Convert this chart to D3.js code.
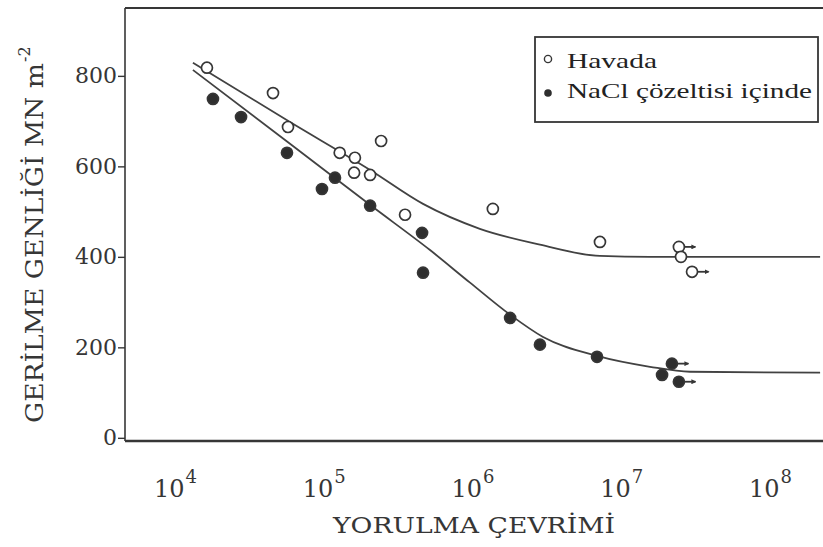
<!DOCTYPE html>
<html>
<head>
<meta charset="utf-8">
<script src="https://cdn.jsdelivr.net/npm/d3@7"></script>
<style>
  html, body { margin: 0; padding: 0; background: #fff; }
  svg { display: block; }
</style>
</head>
<body>
<svg id="chart" width="823" height="547"></svg>
<script>
// Fatigue (S-N) data: stress amplitude vs. cycles to failure
const airCycles   = [1.64e4, 4.56e4, 5.75e4, 1.28e5, 1.62e5, 1.60e5, 2.05e5, 2.43e5, 3.52e5, 1.37e6, 7.19e6, 2.44e7, 2.52e7, 2.99e7];
const airStress   = [818, 762, 687, 630, 619, 586, 581, 656, 493, 506, 433, 422, 400, 367];
const airRunout   = [false, false, false, false, false, false, false, false, false, false, false, true, false, true];

const saltCycles  = [1.80e4, 2.78e4, 5.66e4, 9.73e4, 1.19e5, 2.05e5, 4.58e5, 4.65e5, 1.79e6, 2.84e6, 6.87e6, 2.19e7, 1.88e7, 2.44e7];
const saltStress  = [749, 709, 630, 550, 575, 513, 453, 365, 265, 206, 179, 164, 139, 124];
const saltRunout  = [false, false, false, false, false, false, false, false, false, false, false, true, false, true];

// Fitted curves
const airCurveCycles  = [1.32e4, 5.93e4, 2.05e5, 4.65e5, 1.12e6, 2.84e6, 7.19e6, 1.56e7, 2.17e8];
const airCurveStress  = [829, 698, 592, 517, 462, 427, 402, 400, 400];
const saltCurveCycles = [1.32e4, 5.93e4, 2.14e5, 5.18e5, 9.62e5, 1.79e6, 2.98e6, 6.87e6, 1.56e7, 2.90e7, 2.17e8];
const saltCurveStress = [813, 650, 510, 415, 343, 272, 223, 181, 157, 146, 144];

const yTicks = [0, 200, 400, 600, 800];
const xTickExponents = [4, 5, 6, 7, 8];

const legendLabels = ["Havada", "NaCl çözeltisi içinde"];
const xTitle = "YORULMA ÇEVRİMİ";
const yTitle = "GERİLME GENLİĞİ  MN m";
const yTitleSup = "-2";

const ink = "#363636";
const serif = "'DejaVu Serif', serif";

const svg = d3.select("#chart");
svg.append("rect").attr("width", 823).attr("height", 547).attr("fill", "#fff");

const x = d3.scaleLog().domain([Math.pow(10, 3.664), Math.pow(10, 8.356)]).range([125, 823]);
const y = d3.scaleLinear().domain([-7, 950]).range([441, 8]);

const [x0, x1] = x.range();
const [yb, yt] = y.range();

// Arrowhead for run-out specimens
svg.append("defs").append("marker")
  .attr("id", "arrowhead")
  .attr("viewBox", "0 0 10 10")
  .attr("refX", 8).attr("refY", 5)
  .attr("markerWidth", 5).attr("markerHeight", 5)
  .attr("markerUnits", "userSpaceOnUse")
  .attr("orient", "auto")
  .append("path").attr("d", "M0,0L10,5L0,10Z").attr("fill", ink);

// Frame: top, left, bottom
const frame = svg.append("g").attr("stroke", ink).attr("fill", "none");
frame.append("line").attr("x1", x0).attr("x2", x1).attr("y1", yt).attr("y2", yt).attr("stroke-width", 2.2);
frame.append("line").attr("x1", x0).attr("x2", x0).attr("y1", yt).attr("y2", yb).attr("stroke-width", 1.6);
frame.append("line").attr("x1", x0).attr("x2", x1).attr("y1", yb).attr("y2", yb).attr("stroke-width", 2.6);

// Y axis
const yAxis = svg.append("g")
  .attr("transform", `translate(${x0},0)`)
  .call(d3.axisLeft(y).tickValues(yTicks).tickSize(7).tickPadding(1).tickFormat(d3.format("d")));
yAxis.select(".domain").remove();
yAxis.selectAll(".tick line").attr("stroke", ink).attr("stroke-width", 1.4);
yAxis.selectAll(".tick text")
  .attr("fill", ink).attr("font-family", serif).attr("font-size", 22);

// X axis: decade labels 10^n
const xAxis = svg.append("g")
  .attr("transform", `translate(0,${yb})`)
  .call(d3.axisBottom(x).tickValues(xTickExponents.map(e => Math.pow(10, e))).tickSize(0).tickFormat(""));
xAxis.select(".domain").remove();
xAxis.selectAll(".tick text").each(function(d, i) {
  const t = d3.select(this)
    .attr("y", 56).attr("dy", null)
    .attr("fill", ink).attr("font-family", serif).attr("font-size", 24)
    .attr("text-anchor", "middle");
  t.append("tspan").text("10");
  t.append("tspan").attr("dy", -14).attr("dx", 1).attr("font-size", 18).text(String(xTickExponents[i]));
});

// Curves
const line = d3.line().x(d => x(d[0])).y(d => y(d[1])).curve(d3.curveMonotoneX);
svg.append("path")
  .datum(airCurveCycles.map((c, i) => [c, airCurveStress[i]]))
  .attr("d", line).attr("fill", "none").attr("stroke", "#424242").attr("stroke-width", 1.8);
svg.append("path")
  .datum(saltCurveCycles.map((c, i) => [c, saltCurveStress[i]]))
  .attr("d", line).attr("fill", "none").attr("stroke", "#424242").attr("stroke-width", 1.8);

// Points
const r = 5.5;
function drawSeries(cycles, stress, runout, filled) {
  const pts = cycles.map((c, i) => ({ c, s: stress[i], run: runout[i] }));
  const g = svg.append("g");
  g.selectAll("line.run").data(pts.filter(p => p.run)).join("line")
    .attr("class", "run")
    .attr("x1", p => x(p.c) + r).attr("x2", p => x(p.c) + r + 11)
    .attr("y1", p => y(p.s)).attr("y2", p => y(p.s))
    .attr("stroke", ink).attr("stroke-width", 1.8)
    .attr("marker-end", "url(#arrowhead)");
  g.selectAll("circle").data(pts).join("circle")
    .attr("cx", p => x(p.c)).attr("cy", p => y(p.s)).attr("r", r)
    .attr("fill", filled ? "#2e2e2e" : "#fff")
    .attr("stroke", ink).attr("stroke-width", 1.7);
}
drawSeries(airCycles, airStress, airRunout, false);
drawSeries(saltCycles, saltStress, saltRunout, true);

// Legend
const legend = svg.append("g");
legend.append("rect").attr("x", 535).attr("y", 37).attr("width", 283).attr("height", 85)
  .attr("fill", "#fff").attr("stroke", ink).attr("stroke-width", 1.8);
legend.append("circle").attr("cx", 548).attr("cy", 59).attr("r", 3.6)
  .attr("fill", "#fff").attr("stroke", ink).attr("stroke-width", 1.4);
legend.append("circle").attr("cx", 548).attr("cy", 93).attr("r", 3.8).attr("fill", "#2e2e2e");
legend.append("text").attr("x", 567).attr("y", 68)
  .attr("font-family", "'Liberation Serif', serif").attr("font-size", 21).attr("fill", "#222")
  .attr("textLength", 90).attr("lengthAdjust", "spacingAndGlyphs").text(legendLabels[0]);
legend.append("text").attr("x", 567).attr("y", 98)
  .attr("font-family", "'Liberation Serif', serif").attr("font-size", 21).attr("fill", "#222")
  .attr("textLength", 245).attr("lengthAdjust", "spacingAndGlyphs").text(legendLabels[1]);

// Axis titles
svg.append("text").attr("x", 474).attr("y", 533)
  .attr("text-anchor", "middle").attr("font-family", serif).attr("font-size", 23).attr("fill", ink)
  .attr("textLength", 282).attr("lengthAdjust", "spacingAndGlyphs").text(xTitle);

const yT = svg.append("g").attr("transform", "translate(43,0) rotate(-90)");
yT.append("text").attr("x", -423).attr("y", 0)
  .attr("font-family", serif).attr("font-size", 25).attr("fill", ink)
  .attr("textLength", 360).attr("lengthAdjust", "spacingAndGlyphs").text(yTitle);
yT.append("text").attr("x", -62).attr("y", -13)
  .attr("font-family", serif).attr("font-size", 16).attr("fill", ink).text(yTitleSup);
</script>
</body>
</html>
